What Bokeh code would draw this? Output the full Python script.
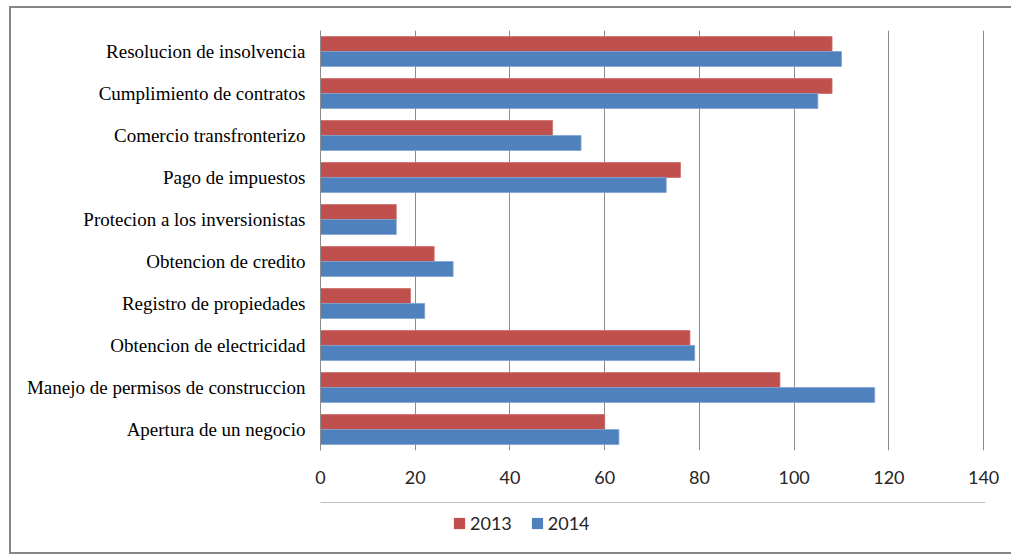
from bokeh.plotting import figure
from bokeh.layouts import column
from bokeh.models import FactorRange, Range1d, FixedTicker, Legend, LegendItem, ColumnDataSource
from bokeh.transform import dodge
from bokeh.embed import file_html
from bokeh.resources import INLINE

# Doing Business indicators, ranking by year
categories = [
    "Resolucion de insolvencia",
    "Cumplimiento de contratos",
    "Comercio transfronterizo",
    "Pago de impuestos",
    "Protecion a los inversionistas",
    "Obtencion de credito",
    "Registro de propiedades",
    "Obtencion de electricidad",
    "Manejo de permisos de construccion",
    "Apertura de un negocio",
]
values_2013 = [108, 108, 49, 76, 16, 24, 19, 78, 97, 60]
values_2014 = [110, 105, 55, 73, 16, 28, 22, 79, 117, 63]
series_names = ["2013", "2014"]
x_ticks = [0, 20, 40, 60, 80, 100, 120, 140]

RED = "#C0504D"
RED_EDGE = "#CB6F6C"
BLUE = "#4F81BD"
BLUE_EDGE = "#7FA3D1"
GRID = "#8C8C8C"
TEXT = "#262626"

source = ColumnDataSource(dict(cat=categories, v2013=values_2013, v2014=values_2014))

# ---- main bar chart ----
W = 1000
p = figure(
    width=W, height=494,
    y_range=FactorRange(factors=list(reversed(categories)), range_padding=0),
    x_range=Range1d(0, 140.4),   # small headroom so the 140 grid line is not clipped
    output_backend="svg", toolbar_location=None,
    min_border_left=309, min_border_right=26,
    min_border_top=22, min_border_bottom=52,
)
p.outline_line_color = None
p.background_fill_color = "white"
p.border_fill_color = "white"

bar_h = 0.357
p.hbar(y=dodge("cat", bar_h / 2, range=p.y_range), right="v2013", left=0,
       height=bar_h, source=source, fill_color=RED,
       line_color=RED_EDGE, line_width=0.8)
p.hbar(y=dodge("cat", -bar_h / 2, range=p.y_range), right="v2014", left=0,
       height=bar_h, source=source, fill_color=BLUE,
       line_color=BLUE_EDGE, line_width=0.8)

# value axis
p.xaxis.ticker = FixedTicker(ticks=x_ticks)
p.xaxis.axis_line_color = None
p.xaxis.major_tick_line_color = None
p.xaxis.minor_tick_line_color = None
p.xaxis.major_label_text_font = "Lato"
p.xaxis.major_label_text_font_size = "18px"
p.xaxis.major_label_text_color = TEXT
p.xaxis.major_label_standoff = 14

# category axis
p.yaxis.axis_line_color = GRID
p.yaxis.major_tick_line_color = None
p.yaxis.minor_tick_line_color = None
p.yaxis.major_label_text_font = "Liberation Serif"
p.yaxis.major_label_text_font_size = "19px"
p.yaxis.major_label_text_color = "#000000"
p.yaxis.major_label_standoff = 9

p.xgrid.ticker = FixedTicker(ticks=x_ticks)
p.xgrid.grid_line_color = GRID
p.ygrid.grid_line_color = None

# ---- legend strip (its frame lines up with the chart frame in the column) ----
leg = figure(
    width=W, height=50, x_range=Range1d(0, 1), y_range=Range1d(0, 1),
    output_backend="svg", toolbar_location=None,
    x_axis_location=None, y_axis_location=None,
    min_border=0,
)
leg.outline_line_color = None
leg.grid.grid_line_color = None
# swatch renderers, placed outside the visible range of the strip
swatch = ColumnDataSource(dict(y=[5], right=[1]))
k13 = leg.hbar(y="y", right="right", height=0.5, source=swatch, fill_color=RED, line_color=None)
k14 = leg.hbar(y="y", right="right", height=0.5, source=swatch, fill_color=BLUE, line_color=None)

legend = Legend(
    items=[LegendItem(label=series_names[0], renderers=[k13]),
           LegendItem(label=series_names[1], renderers=[k14])],
    orientation="horizontal", location=(132, 18),
    padding=0, margin=0, spacing=18,
    glyph_width=14, glyph_height=14, label_standoff=4,
    label_text_font="Lato", label_text_font_size="18px",
    label_text_color=TEXT,
    border_line_color=None, background_fill_alpha=0,
)
leg.add_layout(legend)

layout = column(
    p, leg, spacing=0,
    styles={"border": "2px solid #868686", "box-sizing": "content-box",
            "margin-left": "9px", "margin-top": "6px"},
)

open("out.html", "w").write(file_html(layout, INLINE))
